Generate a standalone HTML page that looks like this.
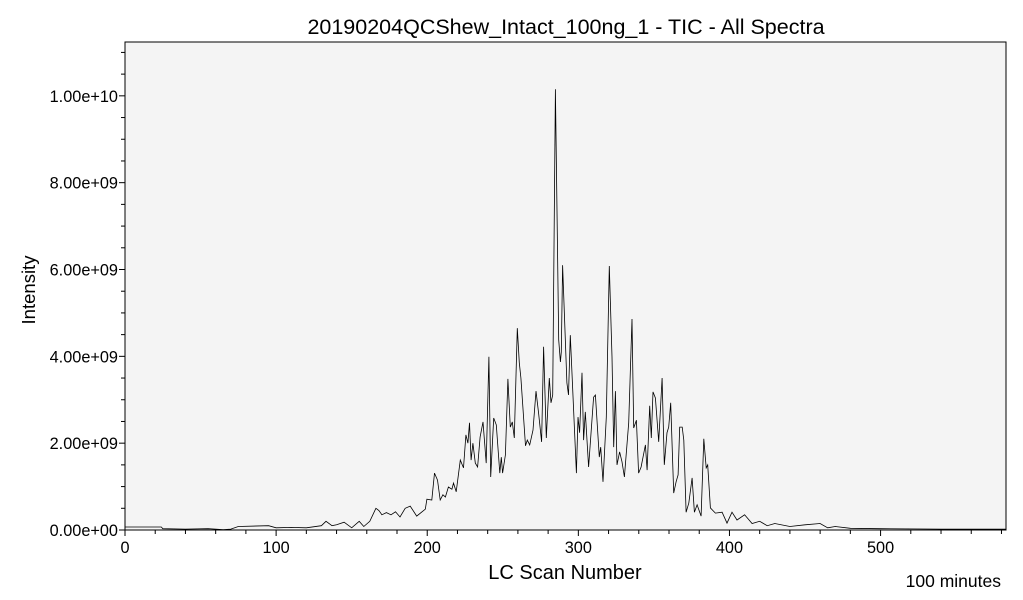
<!DOCTYPE html>
<html><head><meta charset="utf-8"><style>
html,body{margin:0;padding:0;background:#fff;}
svg{display:block;font-family:"Liberation Sans",Arial,sans-serif;}
</style></head><body>
<svg id="chart" width="1023" height="600">
<rect x="125" y="42" width="881" height="488" fill="#f4f4f4"/>
<g id="grid"></g>
<path id="line" fill="none" stroke="#000" stroke-width="0.8"/>
<rect x="125" y="42" width="881" height="488" fill="none" stroke="#000" stroke-width="1"/>
<g id="axes"></g>
<text x="566" y="34" text-anchor="middle" font-size="21.5">20190204QCShew_Intact_100ng_1 - TIC - All Spectra</text>
<text x="565" y="579" text-anchor="middle" font-size="20">LC Scan Number</text>
<text transform="translate(35,290) rotate(-90)" text-anchor="middle" font-size="18.5">Intensity</text>
<text x="1001" y="587" text-anchor="end" font-size="17.5">100 minutes</text>
</svg>
<script>
const scans=[0,24,25,40,55,65,70,75,95,100,110,120,130,133,137,140,145,150,155,158,162,166,168,170,173,176,179,182,185.4,188.7,193,198.7,199.8,203,204.8,206.8,208.6,210.4,212,214,216.3,217.4,219.2,221.9,224,225.6,226.9,228,229,230.2,231.8,233.3,235,236.9,239,240.8,242,244,245.7,248,249,249.9,251.7,253.4,255,256.3,257.6,259.6,260.9,262,265,266.2,267.8,270,272,273.7,275.7,277,278.8,280.8,281.9,283,284.8,287,288.1,288.7,289.6,292.4,293.5,294.7,298.7,299.8,300.8,302.4,303.5,304.6,306.8,310.1,311.3,313.9,314.8,316.3,318.5,320.5,322.3,323.4,324.5,325.6,327.3,328.9,330.5,333.3,335.5,336.6,338.4,339.9,341.5,344.4,345.5,347.2,348.3,349.4,351,353.2,355.4,356.9,358.7,359.8,361.1,363.1,364.7,366,367.1,368.7,369.8,371.3,373.1,375.3,376.8,378.6,381.2,383,384.6,385.6,387.4,390.7,395.1,398.4,401.7,405,410,415,420,425,430,440,450,460,465,470,480,500,540,583];
const intensity=[0.07,0.07,0.03,0.02,0.03,0.01,0.02,0.08,0.1,0.05,0.06,0.05,0.1,0.2,0.1,0.12,0.18,0.05,0.2,0.08,0.2,0.5,0.45,0.35,0.4,0.35,0.42,0.3,0.5,0.55,0.32,0.48,0.71,0.69,1.31,1.15,0.69,0.81,0.76,0.99,0.94,1.08,0.88,1.61,1.43,2.19,2.0,2.47,1.61,2.0,1.54,1.45,2.14,2.49,1.54,3.99,1.22,2.58,2.42,1.31,1.68,1.31,1.73,3.48,2.37,2.49,2.12,4.65,3.85,3.5,1.94,2.07,1.96,2.3,3.2,2.69,2.03,4.22,2.12,3.5,2.93,3.11,10.15,4.38,3.87,4.1,6.1,3.39,3.11,4.49,1.31,2.6,2.24,3.62,2.07,2.72,1.45,3.06,3.11,1.68,1.91,1.11,2.6,6.08,3.99,1.91,3.2,1.5,1.8,1.57,1.22,2.47,4.86,2.35,2.53,1.31,1.45,1.96,1.38,2.86,2.12,3.18,3.04,2.03,3.5,1.5,2.24,2.37,2.93,0.85,1.11,1.27,2.37,2.37,2.07,0.41,0.62,1.2,0.41,0.58,0.32,2.1,1.43,1.5,0.51,0.39,0.41,0.16,0.41,0.23,0.35,0.15,0.2,0.1,0.15,0.08,0.12,0.15,0.05,0.08,0.04,0.03,0.02,0.02];
const xTicks=[0,100,200,300,400,500];
const yTicks=[0,2,4,6,8,10];
const yTickLabels=["0.00e+00","2.00e+09","4.00e+09","6.00e+09","8.00e+09","1.00e+10"];
const X0=125,X1=1006,Y0=530,Y1=42,XMAX=583,YMAX=11.24;
const sx=v=>X0+v/XMAX*(X1-X0);
const sy=v=>Y0-v/YMAX*(Y0-Y1);
const NS="http://www.w3.org/2000/svg";
let d="";
for(let i=0;i<scans.length;i++){d+=(i?"L":"M")+sx(scans[i]).toFixed(1)+","+sy(intensity[i]).toFixed(1);}
document.getElementById("line").setAttribute("d",d);
const ax=document.getElementById("axes");
function ln(x1,y1,x2,y2,name){const l=document.createElementNS(NS,"line");l.setAttribute("x1",x1);l.setAttribute("y1",y1);l.setAttribute("x2",x2);l.setAttribute("y2",y2);l.setAttribute("stroke","#000");


ax.appendChild(l);}
function tx(x,y,s,anchor,name){const t=document.createElementNS(NS,"text");t.setAttribute("x",x);t.setAttribute("y",y);t.setAttribute("text-anchor",anchor);t.setAttribute("font-size","16.3");t.textContent=s;


ax.appendChild(t);}
for(let v=0;v<=XMAX;v+=20){const major=v%100===0;ln(sx(v),Y0,sx(v),Y0+(major?6:4),major?"x-tick":"x-minor-tick");}
xTicks.forEach(v=>tx(sx(v),Y0+23,String(v),"middle","x-tick-label"));
for(let v=0;v<=YMAX;v+=0.5){const major=Math.abs(v%2)<1e-9;ln(X0-(major?6:4),sy(v),X0,sy(v),major?"y-tick":"y-minor-tick");}
yTicks.forEach((v,i)=>tx(X0-7,sy(v)+6,yTickLabels[i],"end","y-tick-label"));
</script>
</body></html>
